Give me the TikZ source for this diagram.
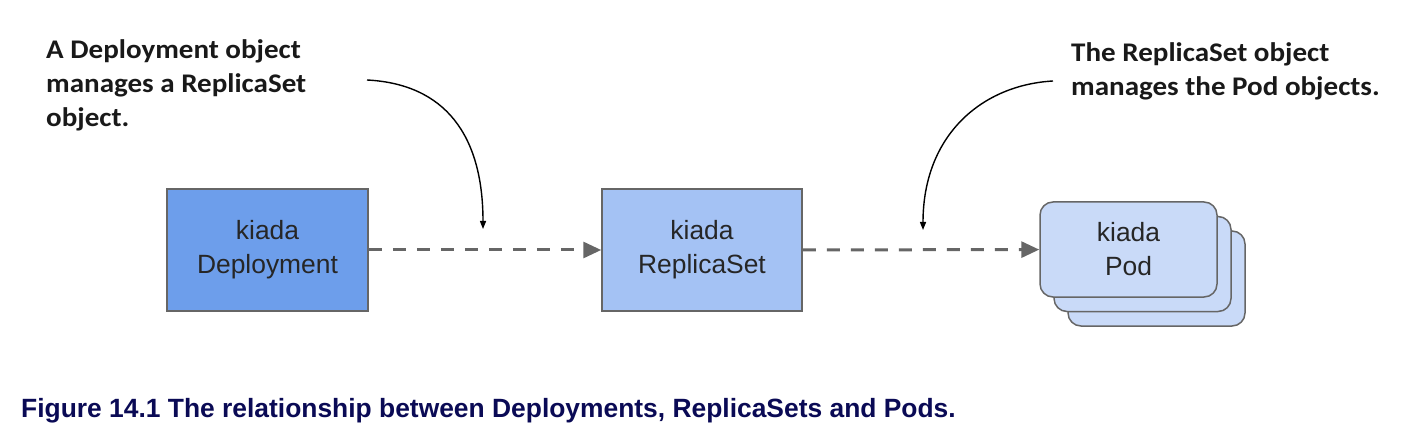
\documentclass[tikz,border=0pt]{standalone}
\usepackage{fontspec}
\setmainfont{Liberation Sans}
\newfontfamily\notefont[FakeStretch=1.08]{Carlito}
\usetikzlibrary{arrows.meta}

\definecolor{deplblue}{HTML}{6D9EEB}
\definecolor{rsblue}{HTML}{A4C2F4}
\definecolor{podblue}{HTML}{C9DAF8}
\definecolor{linegray}{HTML}{666666}
\definecolor{capblue}{RGB}{10,10,85}

\tikzset{
  obj/.style={draw=linegray, line width=1.5bp, align=center, text=black!85,
    inner sep=0pt, font=\fontsize{26.5}{34}\selectfont},
  manages/.style={draw=linegray, line width=3bp, dash pattern=on 13bp off 11bp,
    -{Triangle[length=18bp,width=16bp]}},
  note/.style={align=left, inner sep=0pt, anchor=north west, text=black!90,
    font=\notefont\bfseries\fontsize{27}{34.5}\selectfont},
  pointer/.style={line width=1.4bp, -{Triangle[length=8bp,width=6bp]}}
}

\begin{document}
\begin{tikzpicture}[x=1bp,y=-1bp]
  \useasboundingbox (0,0) rectangle (1410,444);

  \begin{scope}[every node/.style={obj}]
    \node[fill=deplblue, minimum width=201bp, minimum height=122bp] (deploy) at (267.5,250) {kiada\\Deployment};
    \node[fill=rsblue, minimum width=200bp, minimum height=122bp] (rs) at (702,250) {kiada\\ReplicaSet};
    % pod stack, back to front
    \node[fill=podblue, rounded corners=13bp, minimum width=177bp, minimum height=95bp] (pod3) at (1156.5,278.5) {};
    \node[fill=podblue, rounded corners=13bp, minimum width=177bp, minimum height=95bp] (pod2) at (1142.5,264) {};
    \node[fill=podblue, rounded corners=13bp, minimum width=177bp, minimum height=95bp] (pod1) at (1128.5,249.5) {kiada\\Pod};
  \end{scope}

  \path (deploy) edge[manages] (rs);
  \path (rs)     edge[manages] (pod1);

  \node[note] (note1) at (46,39) {A Deployment object\\manages a ReplicaSet\\object.};
  \node[note] (note2) at (1071,42) {The ReplicaSet object\\manages the Pod objects.};

  \coordinate (p1s) at (367,80);
  \coordinate (p1e) at (483,229);
  \coordinate (p2s) at (1053,81);
  \coordinate (p2e) at (923,230);
  \draw[pointer] (p1s) .. controls (445,84) and (483,135) .. (p1e);
  \draw[pointer] (p2s) .. controls (982,85) and (923,135) .. (p2e);

  \node[anchor=base west, inner sep=0pt, text=capblue, font=\bfseries\fontsize{26.5}{30}\selectfont] (caption) at (21,417)
    {Figure 14.1 The relationship between Deployments, ReplicaSets and Pods.};

\end{tikzpicture}
\end{document}
